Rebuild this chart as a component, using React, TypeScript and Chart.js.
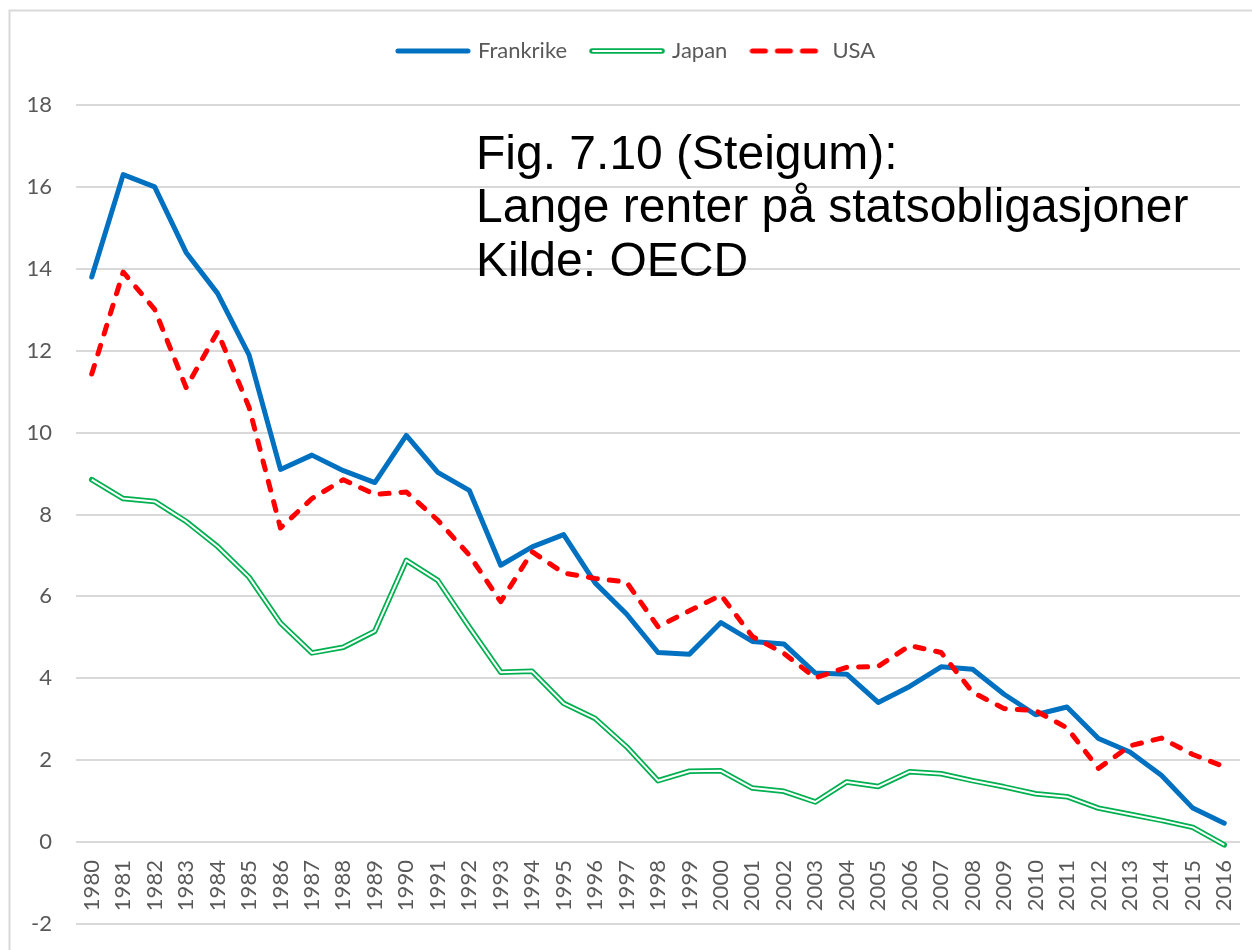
import React, { useEffect, useRef } from "react";
import { Chart, registerables } from "chart.js";

Chart.register(...registerables);

const years = [
  "1980", "1981", "1982", "1983", "1984", "1985", "1986", "1987", "1988", "1989",
  "1990", "1991", "1992", "1993", "1994", "1995", "1996", "1997", "1998", "1999",
  "2000", "2001", "2002", "2003", "2004", "2005", "2006", "2007", "2008", "2009",
  "2010", "2011", "2012", "2013", "2014", "2015", "2016",
];

const frankrike = [
  13.8, 16.3, 16.0, 14.4, 13.4, 11.9, 9.1, 9.45, 9.07, 8.78,
  9.93, 9.03, 8.59, 6.76, 7.21, 7.51, 6.33, 5.57, 4.63, 4.59,
  5.36, 4.9, 4.84, 4.13, 4.1, 3.41, 3.8, 4.28, 4.22, 3.61,
  3.11, 3.3, 2.53, 2.2, 1.63, 0.83, 0.46,
];

const japan = [
  8.85, 8.39, 8.32, 7.83, 7.22, 6.47, 5.35, 4.62, 4.76, 5.15,
  6.88, 6.39, 5.25, 4.15, 4.17, 3.39, 3.02, 2.33, 1.5, 1.73,
  1.74, 1.32, 1.24, 0.98, 1.47, 1.36, 1.72, 1.67, 1.5, 1.35,
  1.18, 1.11, 0.83, 0.68, 0.53, 0.36, -0.07,
];

const usa = [
  11.43, 13.92, 13.01, 11.1, 12.46, 10.62, 7.67, 8.39, 8.85, 8.49,
  8.55, 7.86, 7.01, 5.87, 7.09, 6.57, 6.44, 6.35, 5.26, 5.65,
  6.03, 5.02, 4.61, 4.01, 4.27, 4.29, 4.8, 4.63, 3.66, 3.26,
  3.21, 2.79, 1.8, 2.35, 2.54, 2.14, 1.84,
];

const seriesNames = ["Frankrike", "Japan", "USA"];
const titleLines = ["Fig. 7.10 (Steigum):", "Lange renter på statsobligasjoner", "Kilde: OECD"];

const BLUE = "#0070C0";
const GREEN = "#00B050";
const RED = "#FF0000";
const GRAY_TEXT = "#595959";
const GRID = "#d9d9d9";
const FONT = "Lato, 'Open Sans', sans-serif";

function makeIcon(kind: string): HTMLCanvasElement {
  const c = document.createElement("canvas");
  c.width = 76;
  c.height = 10;
  const g = c.getContext("2d")!;
  g.lineCap = "round";
  if (kind === "blue") {
    g.strokeStyle = BLUE;
    g.lineWidth = 5;
    g.beginPath();
    g.moveTo(3, 5);
    g.lineTo(73, 5);
    g.stroke();
  } else if (kind === "green") {
    g.strokeStyle = GREEN;
    g.lineWidth = 5.5;
    g.beginPath();
    g.moveTo(3, 5);
    g.lineTo(73, 5);
    g.stroke();
    g.strokeStyle = "#ffffff";
    g.lineWidth = 2;
    g.beginPath();
    g.moveTo(4, 5);
    g.lineTo(72, 5);
    g.stroke();
  } else {
    g.strokeStyle = RED;
    g.lineWidth = 5;
    g.setLineDash([13, 12]);
    g.beginPath();
    g.moveTo(3, 5);
    g.lineTo(73, 5);
    g.stroke();
  }
  return c;
}

export default function App() {
  const ref = useRef<HTMLCanvasElement | null>(null);

  useEffect(() => {
    if (!ref.current) return;
    const icons = [makeIcon("blue"), makeIcon("green"), makeIcon("red")];

    const bgPlugin = {
      id: "bgBorder",
      beforeDraw(chart: any) {
        const ctx = chart.ctx;
        ctx.save();
        ctx.fillStyle = "#ffffff";
        ctx.fillRect(0, 0, chart.width, chart.height);
        ctx.strokeStyle = GRID;
        ctx.lineWidth = 2;
        ctx.strokeRect(9.5, 10.5, 1400, 1400);
        ctx.restore();
      },
    };

    const legendSpace = {
      id: "legendSpace",
      beforeInit(chart: any) {
        const orig = chart.legend.fit;
        chart.legend.fit = function () {
          orig.bind(chart.legend)();
          this.height += 33;
        };
      },
      afterLayout(chart: any) {
        // shift legend block slightly right, as in the original layout
        chart.legend.left += 17;
        chart.legend.right += 17;
      },
    };

    const titlePlugin = {
      id: "titleText",
      afterDraw(chart: any) {
        const ctx = chart.ctx;
        ctx.save();
        ctx.fillStyle = "#000000";
        ctx.font = '48px "Liberation Sans", Arial, sans-serif';
        ctx.textBaseline = "alphabetic";
        ctx.textAlign = "left";
        const base = [169, 222, 276];
        titleLines.forEach((t, i) => ctx.fillText(t, 476, base[i]));
        ctx.restore();
      },
    };

    const chart = new Chart(ref.current, {
      type: "line",
      data: {
        labels: years,
        datasets: [
          {
            label: seriesNames[0],
            data: frankrike,
            borderColor: BLUE,
            backgroundColor: BLUE,
            borderWidth: 5,
            pointRadius: 0,
            tension: 0,
            borderJoinStyle: "round",
            borderCapStyle: "round",
            order: 1,
          },
          {
            label: seriesNames[1],
            data: japan,
            borderColor: GREEN,
            backgroundColor: GREEN,
            borderWidth: 5.5,
            pointRadius: 0,
            tension: 0,
            borderJoinStyle: "round",
            borderCapStyle: "round",
            order: 3,
          },
          {
            label: seriesNames[2],
            data: usa,
            borderColor: RED,
            backgroundColor: RED,
            borderWidth: 5,
            borderDash: [9, 12],
            pointRadius: 0,
            tension: 0,
            borderJoinStyle: "round",
            borderCapStyle: "round",
            order: 0,
          },
          {
            label: "JapanInner",
            data: japan,
            borderColor: "#ffffff",
            borderWidth: 2,
            pointRadius: 0,
            tension: 0,
            borderJoinStyle: "round",
            order: 2,
          },
        ],
      },
      options: {
        responsive: false,
        animation: false,
        devicePixelRatio: 1,
        layout: { padding: { top: 14, right: 12, bottom: 26, left: 0 } },
        plugins: {
          tooltip: { enabled: false },
          legend: {
            display: true,
            position: "top",
            labels: {
              usePointStyle: true,
              pointStyleWidth: 68,
              padding: 26,
              color: GRAY_TEXT,
              font: { family: FONT, size: 22 },
              generateLabels: () =>
                seriesNames.map((name, i) => ({
                  text: name,
                  fillStyle: "transparent",
                  strokeStyle: "transparent",
                  lineWidth: 0,
                  hidden: false,
                  datasetIndex: i,
                  pointStyle: icons[i] as any,
                  fontColor: GRAY_TEXT,
                })),
            },
          },
        },
        scales: {
          x: {
            type: "category",
            offset: true,
            position: { y: 0 } as any,
            afterFit(scale: any) {
              scale.paddingLeft = 0;
              scale.paddingRight = 0;
            },
            grid: { display: false, drawTicks: false },
            border: { display: false },
            ticks: {
              autoSkip: false,
              minRotation: 90,
              maxRotation: 90,
              padding: 18,
              color: GRAY_TEXT,
              font: { family: FONT, size: 22 },
            },
          },
          y: {
            min: -2,
            max: 18,
            afterFit(scale: any) {
              scale.width = 76;
              scale.paddingTop = 8;
              scale.paddingBottom = 8;
            },
            grid: { color: GRID, lineWidth: 2, drawTicks: false },
            border: { display: false },
            ticks: {
              stepSize: 2,
              padding: 24,
              color: GRAY_TEXT,
              font: { family: FONT, size: 22 },
            },
          },
        },
      },
      plugins: [bgPlugin, legendSpace, titlePlugin],
    } as any);

    return () => chart.destroy();
  }, []);

  return (
    <div style={{ position: "fixed", left: 0, top: 0, width: 1252, height: 950, background: "#fff" }}>
      <canvas ref={ref} width={1252} height={950} style={{ display: "block" }} />
    </div>
  );
}
